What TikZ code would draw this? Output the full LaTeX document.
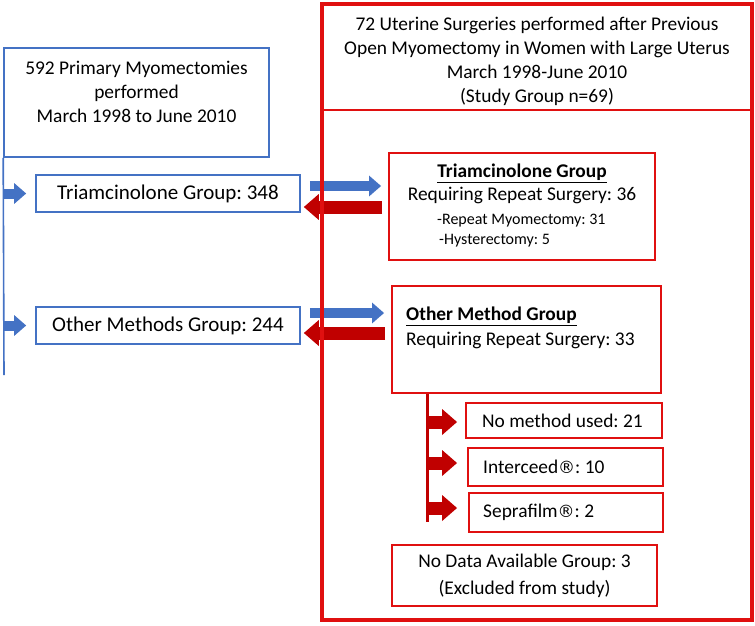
\documentclass[tikz,border=0pt]{standalone}
\usepackage{fontspec}
\setmainfont{Carlito}
\newfontfamily\symfont{DejaVu Sans}
\usepackage{tikz}
\usetikzlibrary{arrows.meta}
\definecolor{myblue}{HTML}{4472C4}
\definecolor{boxred}{HTML}{E01010}
\definecolor{arrred}{HTML}{C00000}
\newcommand{\regsign}{{\symfont\fontsize{17}{17}\selectfont ®}}
\frenchspacing

\begin{document}
\begin{tikzpicture}[x=1pt,y=-1pt,
	bbox/.style={shape=rectangle,draw=myblue,line width=1.6pt,inner sep=0pt},
	rbox/.style={shape=rectangle,draw=boxred,line width=1.8pt,inner sep=0pt},
	barrow/.style={color=myblue,line width=10pt,-{Triangle[width=20pt,length=12pt]}},
	rarrow/.style={color=arrred,line width=13pt,-{Triangle[width=25pt,length=15pt]}},
	txt/.style={inner sep=0pt,align=center,font=\fontsize{19.4}{24}\selectfont},
	small/.style={inner sep=0pt,font=\fontsize{16}{20}\selectfont}]
	
	\useasboundingbox (0,0) rectangle (755,625);
	
	% left column
	\node[bbox,minimum width=265,minimum height=109] (p) at (136.5,102.5) {};
	\node[txt] (pt) at (136.5,92) {592 Primary Myomectomies\\performed\\March 1998 to June 2010};
	\node[bbox,txt,font=\fontsize{21}{25}\selectfont,minimum width=264,minimum height=37] (t) at (168,193.5) {Triamcinolone Group: 348};
	\node[bbox,txt,font=\fontsize{21}{25}\selectfont,minimum width=264,minimum height=37] (o) at (168,325.5) {Other Methods Group: 244};
	\coordinate (pend) at (4,375);
	
	\draw[myblue,line width=1.6pt] (p.south west) -- (pend);
	\draw[barrow,shorten >=9pt] (p.west |- t) -- (t.west);
	\draw[barrow,shorten >=9pt] (p.west |- o) -- (o.west);
	
	% right column
	\node[rbox,minimum width=266,minimum height=107] (tr) at (522,206.5) {};
	\node[txt] (trh) at (522,173) {\underline{\textbf{Triamcinolone Group}}};
	\node[txt] (trs) at (522,195) {Requiring Repeat Surgery: 36};
	\node[small,anchor=west] (tr1) at (437,221) {-Repeat Myomectomy: 31};
	\node[small,anchor=west] (tr2) at (439,241) {-Hysterectomy: 5};
	
	\node[rbox,minimum width=269,minimum height=107] (or) at (526.5,339.5) {};
	\node[txt,anchor=west] (orh) at (406,316) {\underline{\textbf{Other Method Group}}};
	\node[txt,anchor=west] (ors) at (406,340) {Requiring Repeat Surgery: 33};
	
	\draw[barrow,shorten <=9pt,shorten >=7pt] ([yshift=7.5pt]t.east) -- ([yshift=20.5pt]tr.west);
	\draw[rarrow,shorten <=6pt,shorten >=3pt] ([yshift=-0.5pt]tr.west) -- ([yshift=-13.5pt]t.east);
	\draw[barrow,shorten <=9pt,shorten >=7pt] ([yshift=12.5pt]o.east) -- ([yshift=26.5pt]or.west);
	\draw[rarrow,shorten <=6pt,shorten >=3pt] ([yshift=6.5pt]or.west) -- ([yshift=-7.5pt]o.east);
	
	\node[rbox,line width=3.2pt,minimum width=430,minimum height=616] (g) at (537,312) {};
	\draw[boxred,line width=2pt] ([yshift=-108pt]g.north west) -- ([yshift=-108pt]g.north east);
	\node[txt] (gt) at (537,61) {72 Uterine Surgeries performed after Previous\\Open Myomectomy in Women with Large Uterus\\March 1998-June 2010\\(Study Group n=69)};
	
	% methods used
	\node[rbox,minimum width=196,minimum height=35] (n1) at (564,420.5) {};
	\node[rbox,minimum width=195,minimum height=38] (n2) at (565.5,467) {};
	\node[rbox,minimum width=194,minimum height=39] (n3) at (566,512.5) {};
	\node[txt,anchor=west] (n1t) at (482,421) {No method used: 21};
	\node[txt,anchor=west] (n2t) at (483,467) {Interceed\regsign: 10};
	\node[txt,anchor=west] (n3t) at (483,512) {Seprafilm\regsign: 2};
	\coordinate (v) at (427,522);
	
	\draw[arrred,line width=3pt] (or.south -| v) -- (v);
	\draw[rarrow,shorten >=8pt] ([yshift=100pt]v) -- ([yshift=-1.5pt]n1.west);
	\draw[rarrow,shorten >=10pt] ([yshift=59pt]v) -- ([yshift=4pt]n2.west);
	\draw[rarrow,shorten >=11pt] ([yshift=14pt]v) -- ([yshift=4.5pt]n3.west);
	
	\node[rbox,txt,font=\fontsize{19.4}{27}\selectfont,minimum width=265,minimum height=61] (nd) at (524.5,575.5) {No Data Available Group: 3\\(Excluded from study)};
\end{tikzpicture}
\end{document}
